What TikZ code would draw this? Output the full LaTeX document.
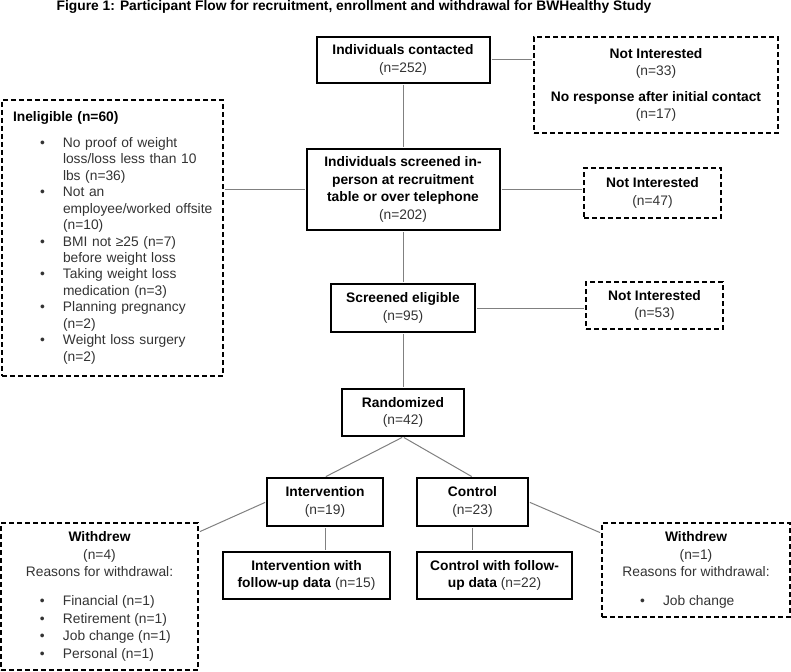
\documentclass[tikz,border=0pt]{standalone}
\usepackage{fontspec}
\setmainfont{Liberation Sans}
\usetikzlibrary{calc}
\newcommand{\hd}[1]{\textcolor{black}{\textbf{#1}}}
\begin{document}
\begin{tikzpicture}[x=1pt,y=-1pt,
  every node/.style={font=\fontsize{13.8}{17.5}\selectfont,text=black!80},
  box/.style={draw=black,line width=2pt,align=center,inner sep=0pt},
  dbox/.style={box,dash pattern=on 5pt off 3pt},
  link/.style={draw=black!50,line width=1pt,shorten <=1pt,shorten >=1pt}]
\useasboundingbox (0,0) rectangle (791,671);
\node[font=\fontsize{13.8}{16}\selectfont\bfseries,text=black] (title) at (354,7)
  {Figure 1: Participant Flow for recruitment, enrollment and withdrawal for BWHealthy Study};
\node[box,minimum width=173pt,minimum height=46pt] (contacted) at (403,60)
  {\hd{Individuals contacted}\\(n=252)};
\node[dbox,minimum width=244pt,minimum height=96pt] (noint) at (656,85)
  {\hd{Not Interested}\\(n=33)\\[8pt]\hd{No response after initial contact}\\(n=17)};
\node[box,minimum width=193pt,minimum height=81pt] (screened) at (403,189.5)
  {\hd{Individuals screened in-}\\\hd{person at recruitment}\\\hd{table or over telephone}\\(n=202)};
\node[dbox,minimum width=137pt,minimum height=50pt] (nointb) at (652.5,193)
  {\hd{Not Interested}\\(n=47)};
\node[dbox,minimum width=221pt,minimum height=276pt,text width=199pt,align=left] (inelig) at (112.5,238)
  {\renewcommand\arraystretch{0.94}%
  \begin{tabular}{@{}p{27pt}@{}p{23pt}@{}l@{}}
  \multicolumn{3}{@{}l@{}}{\hd{Ineligible (n=60)}}\\[9.5pt]
  &\textbullet&No proof of weight\\
  &&loss/loss less than 10\\
  &&lbs (n=36)\\
  &\textbullet&Not an\\
  &&employee/worked offsite\\
  &&(n=10)\\
  &\textbullet&BMI not ≥25 (n=7)\\
  &&before weight loss\\
  &\textbullet&Taking weight loss\\
  &&medication (n=3)\\
  &\textbullet&Planning pregnancy\\
  &&(n=2)\\
  &\textbullet&Weight loss surgery\\
  &&(n=2)
  \end{tabular}};
\node[box,minimum width=144pt,minimum height=48pt] (eligible) at (403,308)
  {\hd{Screened eligible}\\(n=95)};
\node[dbox,minimum width=137pt,minimum height=47pt] (nointc) at (654.5,305.5)
  {\hd{Not Interested}\\(n=53)};
\node[box,minimum width=122pt,minimum height=47pt] (random) at (403,412.5)
  {\hd{Randomized}\\(n=42)};
\node[box,minimum width=116pt,minimum height=48pt] (interv) at (325,502)
  {\hd{Intervention}\\(n=19)};
\node[box,minimum width=111pt,minimum height=48pt] (ctrl) at (472.5,502)
  {\hd{Control}\\(n=23)};
\node[box,minimum width=167pt,minimum height=47pt] (intfu) at (306.5,575.5)
  {\hd{Intervention with}\\\hd{follow-up data} (n=15)};
\node[box,minimum width=155pt,minimum height=47pt] (ctrlfu) at (494.5,575.5)
  {\hd{Control with follow-}\\\hd{up data} (n=22)};
\node[dbox,minimum width=197pt,minimum height=147pt] (wdl) at (99.5,596.5)
  {\begin{tabular}{@{}p{28pt}@{}p{23pt}@{}p{124pt}@{}}
  \multicolumn{3}{@{}c@{}}{\hd{Withdrew}}\\
  \multicolumn{3}{@{}c@{}}{(n=4)}\\
  \multicolumn{3}{@{}c@{}}{Reasons for withdrawal:}\\[11.5pt]
  &\textbullet&Financial (n=1)\\
  &\textbullet&Retirement (n=1)\\
  &\textbullet&Job change (n=1)\\
  &\textbullet&Personal (n=1)
  \end{tabular}};
\node[dbox,minimum width=188pt,minimum height=94pt] (wdr) at (696,570)
  {\begin{tabular}{@{}p{27pt}@{}p{23pt}@{}p{116pt}@{}}
  \multicolumn{3}{@{}c@{}}{\hd{Withdrew}}\\
  \multicolumn{3}{@{}c@{}}{(n=1)}\\
  \multicolumn{3}{@{}c@{}}{Reasons for withdrawal:}\\[11.5pt]
  &\textbullet&Job change
  \end{tabular}};
\draw[link] (contacted.east) -- (contacted.east -| noint.west);
\draw[link] (contacted.south) -- (screened.north);
\draw[link] (screened.west) -- (screened.west -| inelig.east);
\draw[link] (screened.east) -- (screened.east -| nointb.west);
\draw[link] (screened.south) -- (eligible.north);
\draw[link] (eligible.east) -- (eligible.east -| nointc.west);
\draw[link] (eligible.south) -- (random.north);
\draw[link] (random.south) -- (interv.north);
\draw[link] (random.south) -- (ctrl.north);
\draw[link] (interv.south) -- (interv.south |- intfu.north);
\draw[link] (ctrl.south) -- (ctrl.south |- ctrlfu.north);
\draw[link] (interv.west) -- ($(wdl.north east)+(0,10)$);
\draw[link] (ctrl.east) -- ($(wdr.north west)+(0,11)$);
\end{tikzpicture}
\end{document}
